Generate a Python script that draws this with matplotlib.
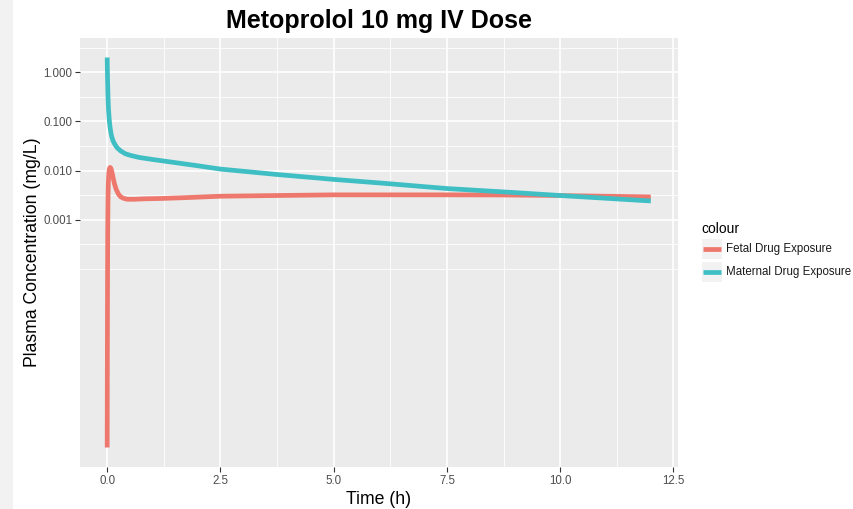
import numpy as np
import matplotlib
matplotlib.use("Agg")
import matplotlib.pyplot as plt
from matplotlib.lines import Line2D
from matplotlib.patches import Rectangle

plt.rcParams['font.family'] = ['Liberation Sans', 'DejaVu Sans']

# Data (time in h, concentration in mg/L)
maternal_t = [0.0, 0.003, 0.01, 0.02, 0.03, 0.045, 0.06, 0.08, 0.1, 0.13, 0.17, 0.22,
              0.3, 0.4, 0.5, 0.7, 1.0, 1.5, 2.0, 2.5, 3.75, 5.0, 6.0, 7.5, 8.9, 10.0, 12.0]
maternal_c = [2.0, 1.3, 0.6, 0.28, 0.17, 0.11, 0.08, 0.06, 0.049, 0.04, 0.034, 0.029,
              0.025, 0.022, 0.0205, 0.0185, 0.0168, 0.0145, 0.0125, 0.0107, 0.0083, 0.0066,
              0.0056, 0.0043, 0.0036, 0.0031, 0.0024]

fetal_t = [0.0, 0.004, 0.008, 0.012, 0.018, 0.025, 0.035, 0.05, 0.065, 0.08, 0.1, 0.13,
           0.16, 0.2, 0.25, 0.3, 0.37, 0.45, 0.6, 0.8, 1.2, 1.7, 2.5, 3.75, 5.0, 6.25,
           7.5, 8.75, 10.0, 11.0, 12.0]
fetal_c = [2.3e-8, 2.0e-6, 6.0e-5, 6.0e-4, 2.5e-3, 5.5e-3, 8.5e-3, 0.0110, 0.0116, 0.0112,
           0.0098, 0.0072, 0.0054, 0.0041, 0.0033, 0.0029, 0.0027, 0.0026, 0.0026, 0.00265,
           0.0027, 0.0028, 0.0030, 0.0031, 0.0032, 0.0032, 0.0032, 0.00318, 0.0031, 0.003,
           0.0029]

series_names = ['Fetal Drug Exposure', 'Maternal Drug Exposure']
series_colors = ['#EE786E', '#3FBFC4']

x_ticks = [0.0, 2.5, 5.0, 7.5, 10.0, 12.5]
x_minor = [1.25, 3.75, 6.25, 8.75, 11.25]
y_ticks = [1.0, 0.1, 0.01, 0.001]
y_labels = ['1.000', '0.100', '0.010', '0.001']
y_minor = [10 ** 0.5, 10 ** -0.5, 10 ** -1.5, 10 ** -2.5, 10 ** -3.5, 1e-4]

W, H = 854, 509
fig = plt.figure(figsize=(W / 100, H / 100), dpi=100)
fig.patch.set_facecolor('white')


def fx(x):
    return x / W


def fy(y):
    return 1 - y / H


# light strip on the left edge
fig.patches.append(Rectangle((0, 0), fx(13), 1, transform=fig.transFigure,
                             facecolor='#f2f2f2', edgecolor='none', zorder=0))

left, right, top, bottom = 80, 678, 38, 467
ax = fig.add_axes([fx(left), fy(bottom), fx(right - left), (bottom - top) / H])
ax.set_facecolor('#EBEBEB')
for s in ax.spines.values():
    s.set_visible(False)

ax.plot(fetal_t, fetal_c, color=series_colors[0], lw=3.4, solid_capstyle='butt', zorder=3)
ax.plot(maternal_t, maternal_c, color=series_colors[1], lw=3.4, solid_capstyle='butt', zorder=3)

ax.set_yscale('log')
all_c = np.array(fetal_c + maternal_c)
lo, hi = np.log10(all_c.min()), np.log10(all_c.max())
pad = 0.05 * (hi - lo)
ax.set_ylim(10 ** (lo - pad), 10 ** (hi + pad))
tmax = max(max(fetal_t), max(maternal_t))
ax.set_xlim(-0.05 * tmax, tmax * 1.05)

ax.set_xticks(x_ticks)
ax.set_xticklabels(['%.1f' % v for v in x_ticks])
ax.set_yticks(y_ticks)
ax.set_yticklabels(y_labels)
ax.yaxis.set_minor_locator(matplotlib.ticker.NullLocator())
ax.xaxis.set_minor_locator(matplotlib.ticker.NullLocator())

# grid lines (ggplot style)
for v in x_minor:
    ax.axvline(v, color='white', lw=0.6, zorder=1)
for v in y_minor:
    ax.axhline(v, color='white', lw=0.6, zorder=1)
for v in x_ticks:
    ax.axvline(v, color='white', lw=1.2, zorder=1)
for v in y_ticks:
    ax.axhline(v, color='white', lw=1.2, zorder=1)

ax.tick_params(axis='both', length=3.5, width=0.8, color='#333333',
               labelcolor='#4D4D4D', labelsize=8.3, pad=2)

ax.set_xlabel('Time (h)', fontsize=12.7, color='black', labelpad=3)
ax.set_ylabel('Plasma Concentration (mg/L)', fontsize=12.7, color='black', labelpad=2)
ax.set_title('Metoprolol 10 mg IV Dose', fontsize=18, fontweight='bold', pad=7)

# legend drawn like ggplot's guide
fig.text(fx(701), fy(229), 'colour', fontsize=10, va='center', ha='left')
key_rows = [249, 272]
for name, col, yc in zip(series_names, series_colors, key_rows):
    fig.patches.append(Rectangle((fx(702), fy(yc + 10)), fx(20), 20 / H,
                                 transform=fig.transFigure, facecolor='#F2F2F2',
                                 edgecolor='none'))
    fig.lines.append(Line2D([fx(703), fx(721)], [fy(yc), fy(yc)], transform=fig.transFigure,
                            color=col, lw=3.4, solid_capstyle='butt'))
    fig.text(fx(726), fy(yc), name, fontsize=8.3, va='center', ha='left', color='#1A1A1A')

fig.savefig('out.png', dpi=100)
